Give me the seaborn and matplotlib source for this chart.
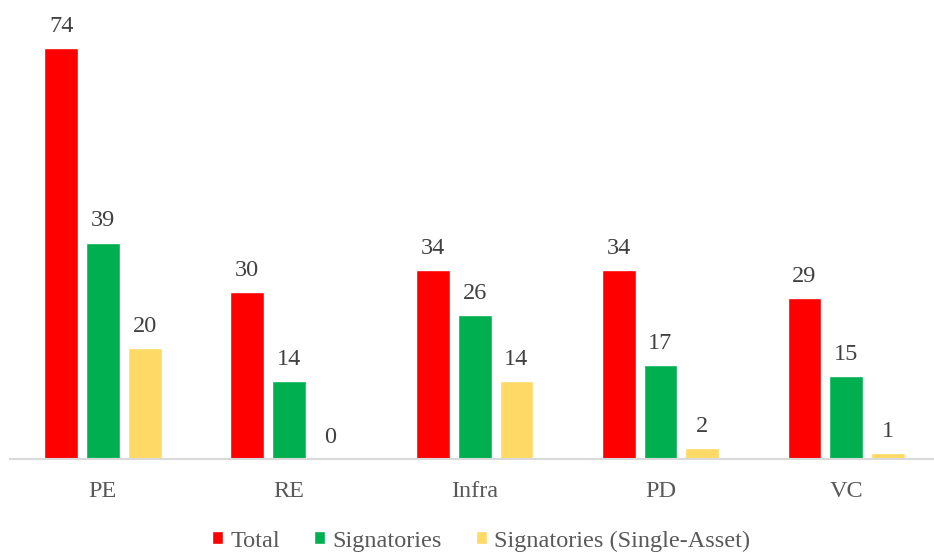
import pandas as pd
import matplotlib.pyplot as plt
import seaborn as sns

# --- data ---
categories = ['PE', 'RE', 'Infra', 'PD', 'VC']
series_names = ['Total', 'Signatories', 'Signatories (Single-Asset)']
total = [74, 30, 34, 34, 29]
signatories = [39, 14, 26, 17, 15]
single_asset = [20, 0, 14, 2, 1]
colors = ['#ff0000', '#00b050', '#ffd966']

df = pd.DataFrame({
    'category': categories * 3,
    'series': [s for s in series_names for _ in categories],
    'value': total + signatories + single_asset,
})

sns.set_style('white')
plt.rcParams['font.family'] = ['Liberation Serif', 'DejaVu Serif']

fig = plt.figure(figsize=(9.34, 5.56), dpi=100)
ax = fig.add_axes([0.0107, 0.1745, 0.989, 0.7986])

sns.barplot(data=df, x='category', y='value', hue='series', hue_order=series_names,
            palette=colors, width=0.675, gap=0.19, ax=ax, legend=True,
            saturation=1)

for cont in ax.containers:
    ax.bar_label(cont, padding=8, fontsize=17.5, color='#404040')

ax.set_ylim(0, 80)
ax.set_xlim(-0.5, 4.47)
ax.set_xlabel('')
ax.set_ylabel('')
ax.set_yticks([])
ax.tick_params(axis='x', length=0, labelsize=17.5, labelcolor='#595959', pad=16)
for side in ['top', 'right', 'left']:
    ax.spines[side].set_visible(False)
ax.spines['bottom'].set_color('#d9d9d9')
ax.spines['bottom'].set_linewidth(1.5)

handles, labels = ax.get_legend_handles_labels()
ax.get_legend().remove()
fig.legend(handles, labels, loc='center', bbox_to_anchor=(0.515, 0.027), ncol=3,
           frameon=False, fontsize=17.5, labelcolor='#595959',
           handlelength=0.45, handleheight=0.45, handletextpad=0.3, columnspacing=1.4)

fig.savefig('out.png', dpi=100)
